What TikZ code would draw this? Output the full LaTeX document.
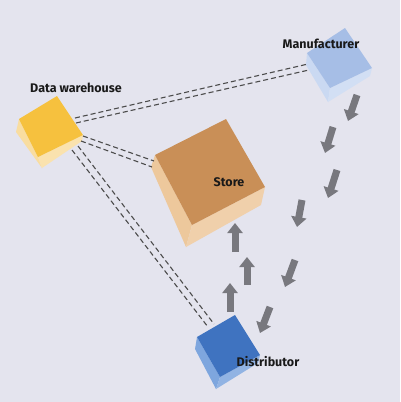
\documentclass[tikz,border=0pt]{standalone}
\usepackage{fontspec}
\setmainfont{Fira Sans}
\usetikzlibrary{arrows.meta}
\definecolor{bg}{HTML}{E4E4EE}
\definecolor{dwtop}{HTML}{F6C13E}
\definecolor{dwside}{HTML}{F9DDA0}
\definecolor{sttop}{HTML}{C98F57}
\definecolor{stside}{HTML}{EDC89C}
\definecolor{ditop}{HTML}{3F73C0}
\definecolor{diside}{HTML}{7EA6DE}
\definecolor{matop}{HTML}{A6BEE6}
\definecolor{maside}{HTML}{CAD9F2}
\definecolor{flow}{HTML}{78787E}
\tikzset{
  label/.style={font=\bfseries\fontsize{12.5}{14}\selectfont,text=black!90},
  link/.style={draw=black!70,line width=1.1pt,dash pattern=on 5pt off 3pt},
  flowarrow/.style={draw=flow,line width=7pt,-{Triangle[width=15pt,length=10pt]}}
}
\begin{document}
\begin{tikzpicture}[x=1pt,y=-1pt]
\fill[bg](0,0) rectangle (400,402);
\useasboundingbox (0,0) rectangle (400,402);
\coordinate (a) at (57,96);
\coordinate (b) at (19,119);
\coordinate (c) at (38,157);
\coordinate (d) at (83,135);
\coordinate (b') at (16,132);
\coordinate (c') at (42,168);
\coordinate (d') at (82,141);
\fill[dwside](b)--(b')--(c')--(c)--cycle;
\fill[dwside!85!white](c)--(c')--(d')--(d)--cycle;
\fill[dwtop](a)--(b)--(c)--(d)--cycle;
\coordinate (e) at (226,119);
\coordinate (f) at (155,155);
\coordinate (g) at (192,225);
\coordinate (h) at (265,187);
\coordinate (f') at (151,167);
\coordinate (g') at (186,247);
\coordinate (h') at (261,205);
\fill[stside](f)--(f')--(g')--(g)--cycle;
\fill[stside!85!white](g)--(g')--(h')--(h)--cycle;
\fill[sttop](e)--(f)--(g)--(h)--cycle;
\coordinate (i) at (235,315);
\coordinate (j) at (197,337);
\coordinate (k) at (220,377);
\coordinate (l) at (260,355);
\coordinate (j') at (195,349);
\coordinate (k') at (216,389);
\coordinate (l') at (258,363);
\fill[diside](j)--(j')--(k')--(k)--cycle;
\fill[diside!85!white](k)--(k')--(l')--(l)--cycle;
\fill[ditop](i)--(j)--(k)--(l)--cycle;
\coordinate (m) at (345,28);
\coordinate (n) at (307,53);
\coordinate (o) at (330,88);
\coordinate (p) at (372,68);
\coordinate (n') at (306,65);
\coordinate (o') at (328,102);
\coordinate (p') at (370,76);
\fill[maside](n)--(n')--(o')--(o)--cycle;
\fill[maside!85!white](o)--(o')--(p')--(p)--cycle;
\fill[matop](m)--(n)--(o)--(p)--cycle;
\node[label] (dw) at (76,88) {Data warehouse};
\node[label] (st) at (229,182) {Store};
\node[label] (di) at (268,362) {Distributor};
\node[label] (ma) at (321,44) {Manufacturer};
\coordinate (q1) at (75,118);
\coordinate (q2) at (76,123);
\coordinate (r1) at (308,64);
\coordinate (r2) at (309,70);
\coordinate (s1) at (83,136);
\coordinate (s2) at (81,141);
\coordinate (t1) at (154,161);
\coordinate (t2) at (152,167);
\coordinate (u1) at (78,146);
\coordinate (u2) at (72,150);
\coordinate (v1) at (214,324);
\coordinate (v2) at (208,327);
\draw[link](q1)--(r1);
\draw[link](q2)--(r2);
\draw[link](s1)--(t1);
\draw[link](s2)--(t2);
\draw[link](u1)--(v1);
\draw[link](u2)--(v2);
\coordinate (w1) at (357,95);
\coordinate (x1) at (348,121);
\coordinate (w2) at (333,127);
\coordinate (x2) at (325,153);
\coordinate (w3) at (337,170);
\coordinate (x3) at (328,198);
\coordinate (w4) at (302,200);
\coordinate (x4) at (297,227);
\coordinate (w5) at (295,260);
\coordinate (x5) at (285,287);
\coordinate (w6) at (270,307);
\coordinate (x6) at (260,333);
\draw[flowarrow](w1)--(x1);
\draw[flowarrow](w2)--(x2);
\draw[flowarrow](w3)--(x3);
\draw[flowarrow](w4)--(x4);
\draw[flowarrow](w5)--(x5);
\draw[flowarrow](w6)--(x6);
\coordinate (y1) at (235,252);
\coordinate (z1) at (235,223);
\coordinate (y2) at (247,285);
\coordinate (z2) at (247,257);
\coordinate (y3) at (230,312);
\coordinate (z3) at (230,283);
\draw[flowarrow](y1)--(z1);
\draw[flowarrow](y2)--(z2);
\draw[flowarrow](y3)--(z3);
\end{tikzpicture}
\end{document}
